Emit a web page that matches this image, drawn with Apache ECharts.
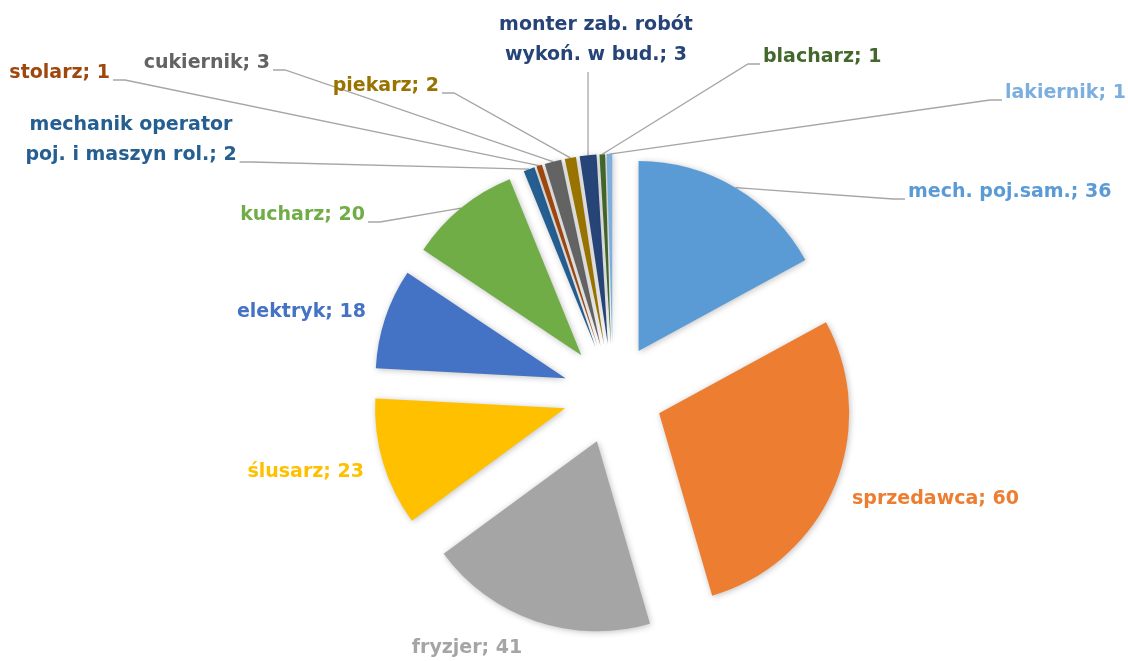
<!DOCTYPE html>
<html>
<head>
<meta charset="utf-8">
<script src="https://cdn.jsdelivr.net/npm/echarts@6/dist/echarts.min.js"></script>
<style>
  html, body { margin: 0; padding: 0; background: #fff; }
  #chart { width: 1128px; height: 661px; }
</style>
</head>
<body>
<div id="chart"></div>
<script>
// occupations (clockwise from 12 o'clock) and counts
const categories = [
  'mech. poj.sam.', 'sprzedawca', 'fryzjer', 'ślusarz', 'elektryk', 'kucharz',
  'mechanik operator\npoj. i maszyn rol.', 'stolarz', 'cukiernik', 'piekarz',
  'monter zab. robót\nwykoń. w bud.', 'blacharz', 'lakiernik'
];
const values = [36, 60, 41, 23, 18, 20, 2, 1, 3, 2, 3, 1, 1];

const colors = [
  '#5B9BD5', '#ED7D31', '#A5A5A5', '#FFC000', '#4472C4', '#70AD47',
  '#255E91', '#9E480E', '#636363', '#997300', '#264478', '#43682B', '#7CAFDD'
];
// which labels get a leader line
const leader = [true, false, false, false, false, true, true, true, true, true, true, true, true];
// label anchor [x, y, align] in px
const labelPos = [
  [908, 192, 'left'], [852, 499, 'left'], [467, 648, 'center'], [364, 472, 'right'],
  [366, 312, 'right'], [365, 215, 'right'], [131, 140, 'center'], [110, 73, 'right'],
  [270, 63, 'right'], [439, 86, 'right'], [596, 40, 'center'], [763, 57, 'left'],
  [1005, 93, 'left']
];

const R = 190;       // pie radius
const EXPLODE = 50;  // slice offset
const LH = 30;       // label line height

const chart = echarts.init(document.getElementById('chart'));

// exploded slices
const sliceData = categories.map(function (name, i) {
  return { name: name, value: values[i], selected: true, itemStyle: { color: colors[i] } };
});

// invisible ring at R + EXPLODE: its arc midpoints coincide with the exploded slices' arcs,
// used only to carry the labels and leader lines
const labelData = categories.map(function (name, i) {
  return {
    name: name,
    value: values[i],
    label: { color: colors[i] },
    labelLine: { show: leader[i] }
  };
});

chart.setOption({
  animation: false,
  backgroundColor: '#fff',
  series: [{
    type: 'pie',
    center: [613, 394],
    radius: [0, R],
    startAngle: 90,
    selectedMode: 'multiple',
    selectedOffset: EXPLODE,
    silent: true,
    itemStyle: {
      borderWidth: 0,
      shadowBlur: 6,
      shadowColor: 'rgba(0,0,0,0.25)',
      shadowOffsetX: 1,
      shadowOffsetY: 1
    },
    select: {
      itemStyle: { borderWidth: 0, shadowBlur: 6, shadowColor: 'rgba(0,0,0,0.25)' }
    },
    label: { show: false },
    labelLine: { show: false },
    data: sliceData
  }, {
    type: 'pie',
    center: [613, 394],
    radius: [0, R + EXPLODE],
    startAngle: 90,
    silent: true,
    avoidLabelOverlap: false,
    itemStyle: { color: 'rgba(0,0,0,0)', borderWidth: 0 },
    label: {
      show: true,
      position: 'outside',
      formatter: '{b}; {c}',
      fontFamily: 'DejaVu Sans',
      fontWeight: 'bold',
      fontSize: 19,
      lineHeight: LH
    },
    labelLine: {
      length: 10,
      length2: 12,
      lineStyle: { color: '#A6A6A6', width: 1.3 }
    },
    labelLayout: function (params) {
      const i = params.dataIndex;
      const p = labelPos[i];
      const w = params.labelRect.width, h = params.labelRect.height;
      const out = { x: p[0], y: p[1], align: p[2], verticalAlign: 'middle', hideOverlap: false };
      if (leader[i] && params.labelLinePoints) {
        const a = params.labelLinePoints[0];
        const left = p[2] === 'left' ? p[0] : (p[2] === 'right' ? p[0] - w : p[0] - w / 2);
        const top = p[1] - h / 2;
        const yEnd = top + h - LH / 2 + 7;
        if (a[0] > left + w) {
          out.labelLinePoints = [a, [left + w + 15, yEnd], [left + w + 3, yEnd]];
        } else if (a[0] < left) {
          out.labelLinePoints = [a, [left - 15, yEnd], [left - 3, yEnd]];
        } else {
          out.labelLinePoints = [a, [a[0], top + h + 2], [a[0], top + h + 2]];
        }
      }
      return out;
    },
    data: labelData
  }]
});
</script>
</body>
</html>
